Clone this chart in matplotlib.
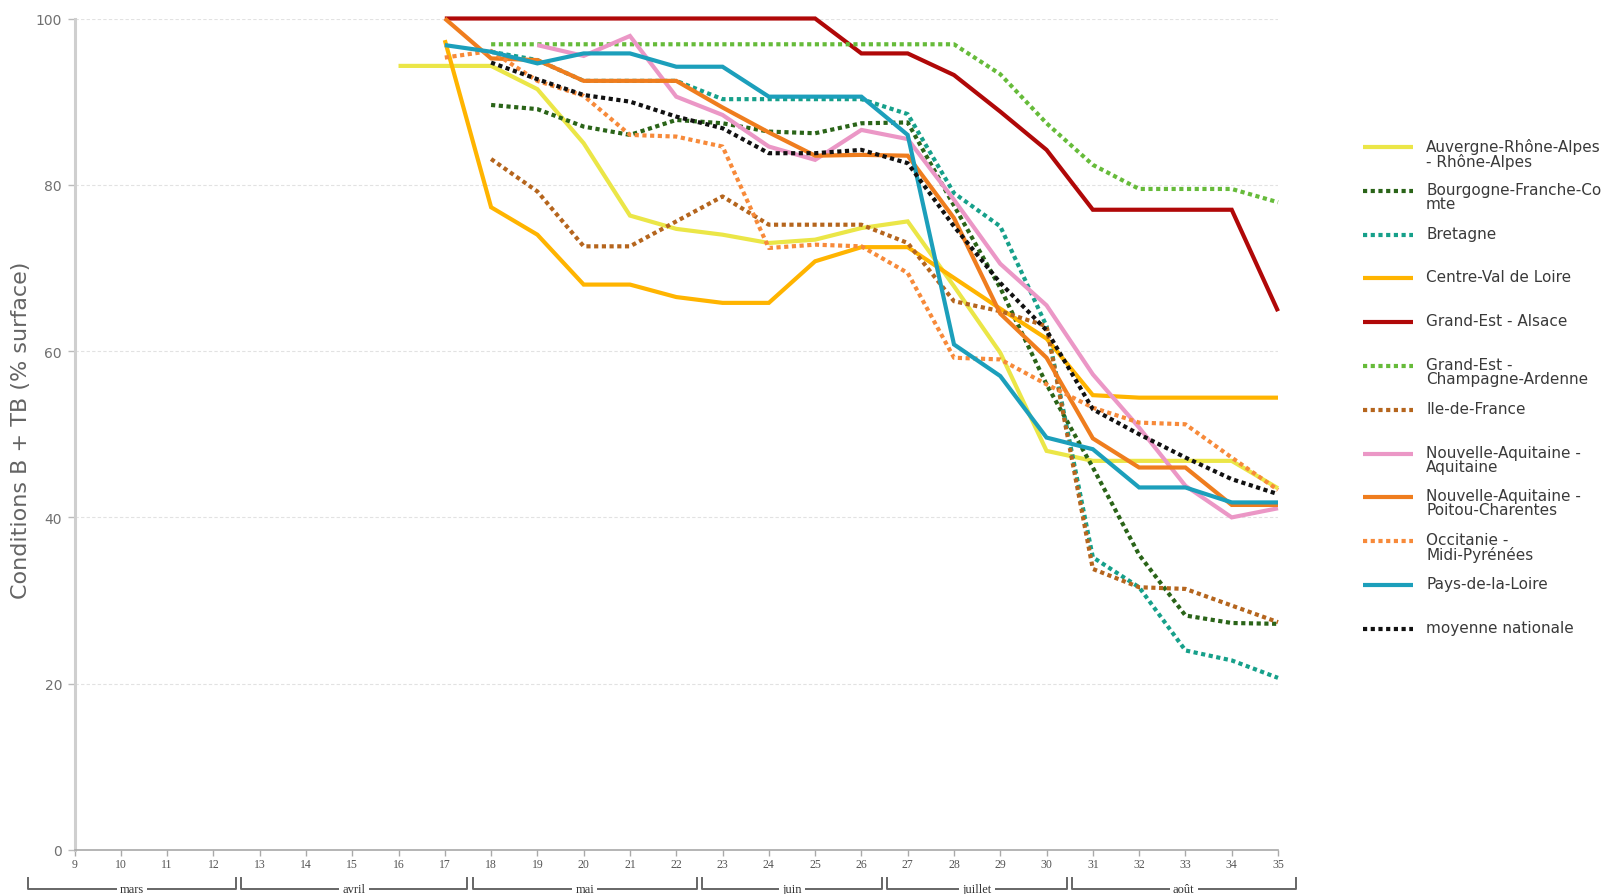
import matplotlib
matplotlib.use("Agg")
import matplotlib.pyplot as plt
from matplotlib.lines import Line2D
import numpy as np

# ---- data -------------------------------------------------------------
weeks = list(range(16, 36))
all_weeks = list(range(9, 36))

auvergne = [94.3, 94.3, 94.3, 91.5, 85.0, 76.3, 74.7, 74.0, 73.0, 73.4,
            74.8, 75.6, 67.8, 59.8, 48.0, 46.8, 46.8, 46.8, 46.8, 43.5]
bourgogne = [None, None, 89.6, 89.1, 87.0, 86.0, 87.8, 87.4, 86.4, 86.2,
             87.4, 87.5, 77.5, 67.6, 56.0, 46.0, 35.5, 28.2, 27.3, 27.2]
bretagne = [None, None, 96.0, 95.0, 92.5, 92.5, 92.5, 90.3, 90.3, 90.3,
            90.3, 88.5, 79.0, 75.0, 63.0, 35.2, 31.6, 24.0, 22.8, 20.7]
centre = [None, 97.4, 77.3, 74.0, 68.0, 68.0, 66.5, 65.8, 65.8, 70.8,
          72.5, 72.5, 68.8, 65.1, 61.5, 54.7, 54.4, 54.4, 54.4, 54.4]
alsace = [None, 100, 100, 100, 100, 100, 100, 100, 100, 100,
          95.8, 95.8, 93.2, 88.8, 84.2, 77.0, 77.0, 77.0, 77.0, 64.8]
champagne = [None, None, 96.9, 96.9, 96.9, 96.9, 96.9, 96.9, 96.9, 96.9,
             96.9, 96.9, 96.9, 93.3, 87.4, 82.4, 79.5, 79.5, 79.5, 77.9]
idf = [None, None, 83.1, 79.2, 72.6, 72.6, 75.6, 78.6, 75.2, 75.2,
       75.2, 73.0, 66.0, 64.8, 63.0, 33.8, 31.6, 31.4, 29.4, 27.4]
aquitaine = [None, None, None, 96.8, 95.5, 97.9, 90.6, 88.4, 84.6, 83.0,
             86.6, 85.5, 78.2, 70.5, 65.5, 57.2, 50.8, 43.8, 40.0, 41.1]
poitou = [None, 100, 95.2, 95.0, 92.5, 92.5, 92.5, 89.3, 86.3, 83.5,
          83.6, 83.5, 76.0, 64.5, 59.2, 49.5, 46.0, 46.0, 41.5, 41.5]
occitanie = [None, 95.3, 96.1, 92.5, 90.7, 86.0, 85.8, 84.6, 72.4, 72.8,
             72.6, 69.4, 59.2, 59.0, 56.0, 53.2, 51.4, 51.2, 47.2, 43.3]
pays_loire = [None, 96.8, 96.0, 94.6, 95.8, 95.8, 94.2, 94.2, 90.6, 90.6,
              90.6, 86.0, 60.8, 57.0, 49.6, 48.2, 43.6, 43.6, 41.8, 41.8]
moyenne = [None, None, 94.7, 92.7, 90.8, 90.0, 88.2, 86.8, 83.8, 83.8,
           84.2, 82.6, 75.0, 68.2, 62.5, 53.0, 50.0, 47.2, 44.6, 42.8]

labels = [
    "Auvergne-Rhône-Alpes\n- Rhône-Alpes",
    "Bourgogne-Franche-Co\nmte",
    "Bretagne",
    "Centre-Val de Loire",
    "Grand-Est - Alsace",
    "Grand-Est -\nChampagne-Ardenne",
    "Ile-de-France",
    "Nouvelle-Aquitaine -\nAquitaine",
    "Nouvelle-Aquitaine -\nPoitou-Charentes",
    "Occitanie -\nMidi-Pyrénées",
    "Pays-de-la-Loire",
    "moyenne nationale",
]
series = [auvergne, bourgogne, bretagne, centre, alsace, champagne, idf,
          aquitaine, poitou, occitanie, pays_loire, moyenne]
colors = ["#ebe647", "#2a6418", "#16a08a", "#ffb400", "#b00808", "#66bb3a",
          "#b5651d", "#eb97c6", "#ef7d1e", "#f78a3a", "#1c9fbb", "#111111"]
dotted = [False, True, True, False, False, True, True, False, False, True,
          False, True]

months = ["mars", "avril", "mai", "juin", "juillet", "août"]
month_spans = [(8.0, 12.48), (12.6, 17.48), (17.6, 22.45), (22.56, 26.45),
               (26.55, 30.45), (30.55, 35.38)]

# ---- figure -----------------------------------------------------------
W, H = 1610, 895
fig = plt.figure(figsize=(W / 100, H / 100), dpi=100)
ax_left, ax_right, ax_top, ax_bot = 74.5, 1278, 19.5, 851
ax = fig.add_axes([ax_left / W, 1 - ax_bot / H,
                   (ax_right - ax_left) / W, (ax_bot - ax_top) / H])

LW = 3.0
DOTS = (0, (1.0, 0.85))

def style(i):
    return dict(color=colors[i], lw=LW,
                linestyle=DOTS if dotted[i] else "-",
                solid_joinstyle="miter", solid_capstyle="butt",
                dash_capstyle="butt")

for i, vals in enumerate(series):
    y = np.array([np.nan if v is None else v for v in vals], dtype=float)
    ax.plot(weeks, y, clip_on=False, zorder=3, **style(i))

ax.set_xlim(9, 35)
ax.set_ylim(0, 100)

for s in ("top", "right"):
    ax.spines[s].set_visible(False)
ax.spines["left"].set_color("#cfcfcf")
ax.spines["left"].set_linewidth(2.2)
ax.spines["bottom"].set_color("#a8a8a8")
ax.spines["bottom"].set_linewidth(1.2)

ax.set_yticks(range(0, 101, 20))
ax.tick_params(axis="y", colors="#bbbbbb", labelcolor="#707070",
               labelsize=10, length=5, width=1, pad=4)
ax.set_xticks(all_weeks)
ax.set_xticklabels([str(w) for w in all_weeks], family="Liberation Serif")
ax.tick_params(axis="x", colors="#aaaaaa", labelcolor="#555555",
               labelsize=8.5, length=4, width=1, pad=2)

ax.yaxis.grid(True, color="#e2e2e2", lw=0.8, linestyle=(0, (3, 2)))
ax.set_axisbelow(True)

# axis title on the left
fig.text(21 / W, 1 - 430 / H, "Conditions B + TB (% surface)",
         rotation=90, ha="center", va="center", color="#646464",
         fontsize=16)

# month brackets below the week axis
tr = ax.get_xaxis_transform()
y_hi, y_lo = -0.034, -0.047
for name, (a, b) in zip(months, month_spans):
    ax.plot([a, a, b, b], [y_hi, y_lo, y_lo, y_hi], transform=tr,
            color="#666666", lw=1.4, clip_on=False, zorder=2)
    ax.text((a + b) / 2, y_lo, name, transform=tr, ha="center", va="center",
            fontsize=9, family="Liberation Serif", color="#333333",
            bbox=dict(boxstyle="square,pad=0.25", fc="white", ec="none"),
            zorder=4, clip_on=False)

# legend on the right
x0, x1, xt = 1363, 1413, 1426
y0, dy = 148, 43.8
for i, lab in enumerate(labels):
    yy = y0 + i * dy
    fig.add_artist(Line2D([x0 / W, x1 / W], [1 - yy / H, 1 - yy / H],
                          transform=fig.transFigure, **style(i)))
    fig.text(xt / W, 1 - (yy - 9) / H, lab, ha="left", va="top",
             fontsize=11, color="#3a3a3a", linespacing=0.92)

fig.savefig("out.png", dpi=100, facecolor="white")
